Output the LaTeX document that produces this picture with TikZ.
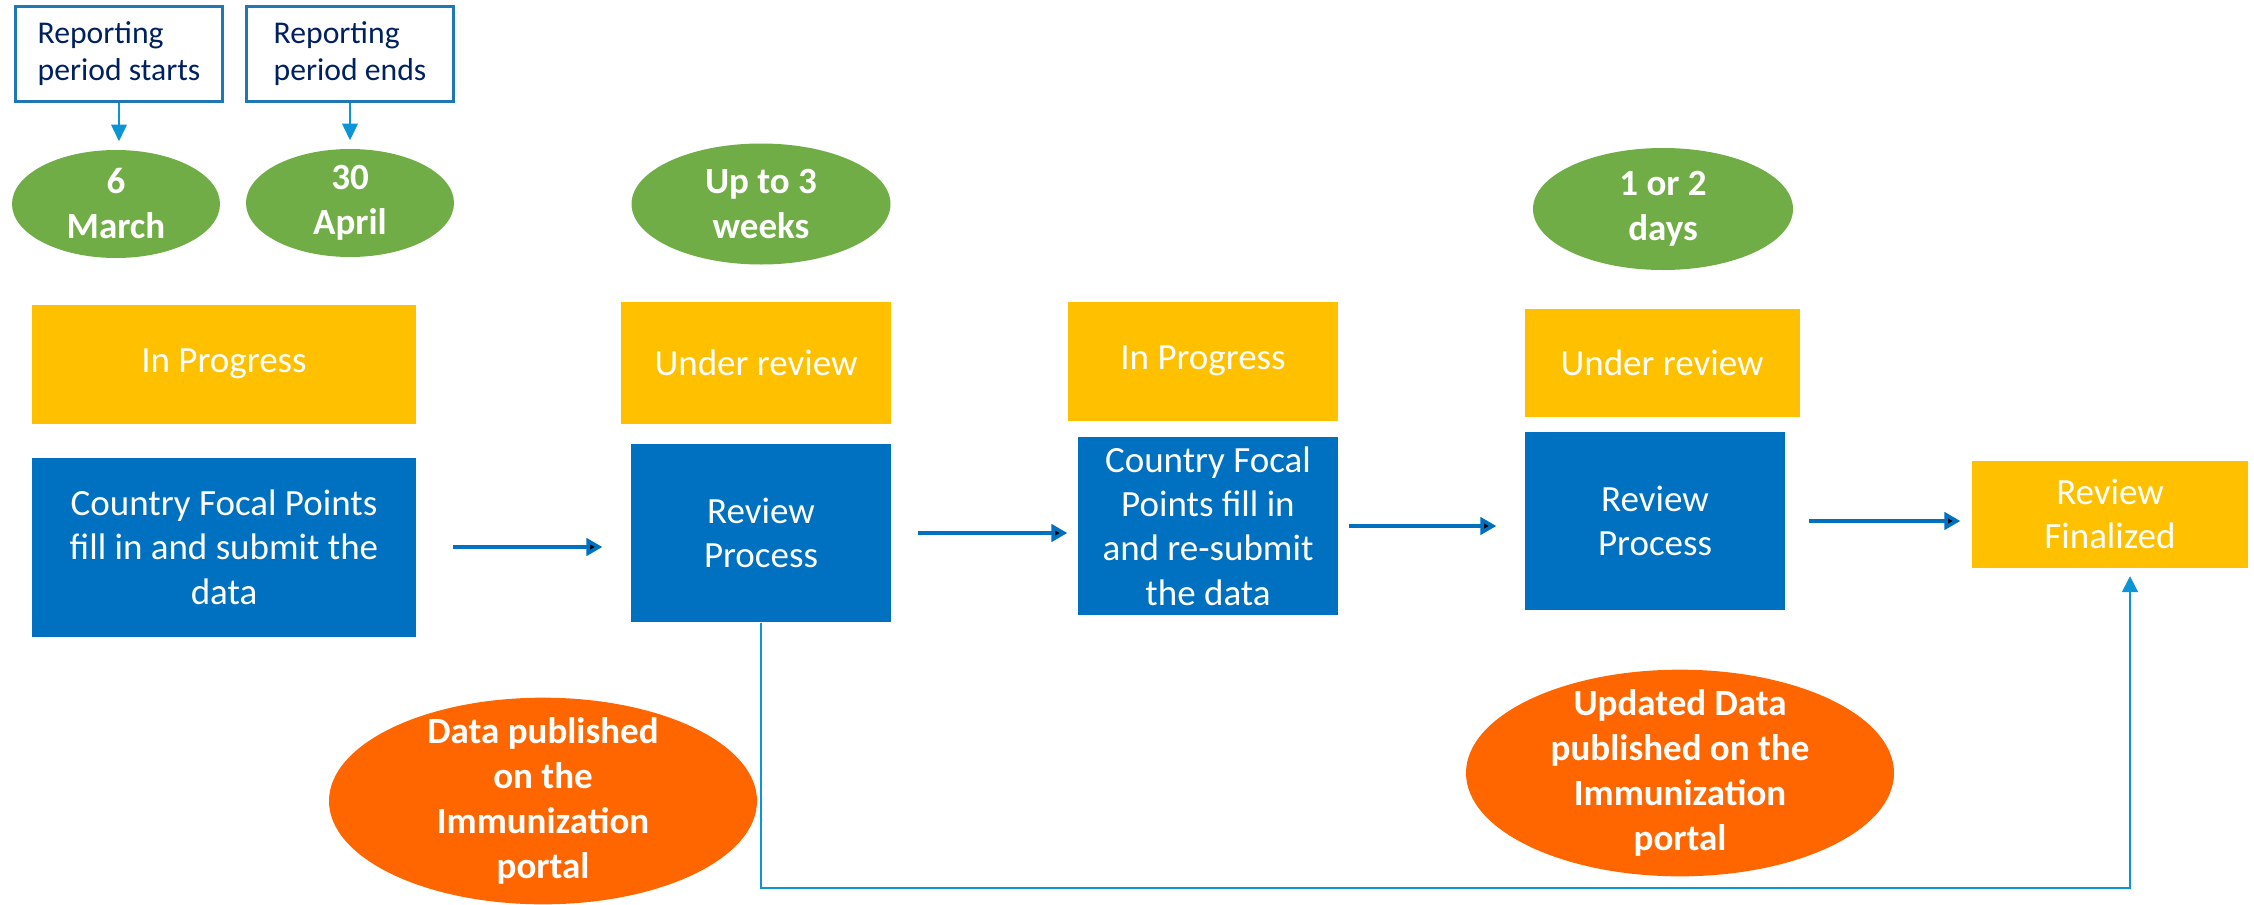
\documentclass[tikz,border=0pt]{standalone}
\usepackage{fontspec}
\setmainfont{Carlito}
\usetikzlibrary{shapes.geometric,arrows.meta}

\definecolor{stagegold}{HTML}{FFC000}
\definecolor{taskblue}{HTML}{0070C0}
\definecolor{timegreen}{HTML}{70AD47}
\definecolor{portalorange}{HTML}{FF6600}
\definecolor{notenavy}{HTML}{002060}
\definecolor{noteedge}{HTML}{1F78B4}
\definecolor{tipblue}{HTML}{0B94D6}

\begin{document}
\begin{tikzpicture}[x=0.3pt,y=-0.3pt,
    body/.style={font=\fontsize{11.1}{13.3}\selectfont},
    note/.style={draw=noteedge,line width=0.8pt,text=notenavy,align=left,inner sep=0pt,
                 font=\fontsize{9.5}{11.1}\selectfont,minimum width=62.1pt,minimum height=28.5pt},
    stage/.style={fill=stagegold,text=white,align=center,inner sep=0pt,body},
    task/.style={fill=taskblue,text=white,align=center,inner sep=0pt,body},
    period/.style={ellipse,fill=timegreen,inner sep=0pt},
    portal/.style={ellipse,fill=portalorange,inner sep=0pt,
                   minimum width=128.4pt,minimum height=62pt},
    big label/.style={text=white,align=center,font=\bfseries\fontsize{11.1}{13.5}\selectfont},
    tip/.style={draw=tipblue,line width=0.7pt,-{Triangle[width=4.6pt,length=5pt]},
                shorten >=2.4pt},
    flow/.style={draw=taskblue,line width=1.1pt,-{Triangle[width=5.2pt,length=4.8pt]}},
    feed/.style={draw=tipblue,line width=0.5pt,-{Triangle[width=4.8pt,length=4.8pt]},
                 shorten >=2.4pt}]

  \useasboundingbox (0,0) rectangle (2254,904);

  % reporting window
  \node[note] (rps) at (119,54) {Reporting\\period starts};
  \node[note] (rpe) at (350,54) {Reporting\\period ends};
  \node[period,minimum width=62.4pt,minimum height=32.4pt,
        label={[big label]center:{6\\March}}] (mar) at (116,204) {};
  \node[period,minimum width=62.4pt,minimum height=32.4pt,
        label={[big label]center:{30\\April}}] (apr) at (350,203) {};
  \draw[tip] (rps.south) -- (rps.south |- mar.north);
  \draw[tip] (rpe.south) -- (rpe.south |- apr.north);

  % durations
  \node[period,minimum width=77.7pt,minimum height=36.3pt,
        label={[big label]center:{Up to 3\\weeks}}] (wk3) at (761,204) {};
  \node[period,minimum width=78pt,minimum height=36.6pt,
        label={[big label]center:{1 or 2\\days}}] (dy2) at (1663,209) {};

  % status row
  \node[stage,minimum width=115.2pt,minimum height=35.7pt] (prog1) at (224,364) {In Progress};
  \node[stage,minimum width=81pt,minimum height=36.6pt] (rvw1) at (756,363) {Under review};
  \node[stage,minimum width=81pt,minimum height=35.7pt] (prog2) at (1203,361) {In Progress};
  \node[stage,minimum width=82.5pt,minimum height=32.4pt] (rvw2) at (1662,363) {Under review};

  % process row
  \node[task,minimum width=115.2pt,minimum height=53.7pt] (cfp1) at (224,547)
       {Country Focal Points\\fill in and submit the\\data};
  \node[task,minimum width=78pt,minimum height=53.4pt] (rev1) at (761,533)
       {Review\\Process};
  \node[task,minimum width=78pt,minimum height=53.4pt] (cfp2) at (1208,526)
       {Country Focal\\Points fill in\\and re-submit\\the data};
  \node[task,minimum width=78pt,minimum height=53.4pt] (rev2) at (1655,521)
       {Review\\Process};
  \node[stage,minimum width=82.8pt,minimum height=32.1pt] (fin) at (2110,514)
       {Review\\Finalized};

  \path[flow]
    (cfp1) edge[shorten <=10.8pt,shorten >=8.4pt] (cfp1.east -| rev1.west)
    (rev1) edge[shorten <=7.8pt,shorten >=3pt] (rev1.east -| cfp2.west)
    (cfp2) edge[shorten <=3pt,shorten >=8.4pt] (cfp2.east -| rev2.west)
    (rev2) edge[shorten <=6.9pt,shorten >=3.3pt] (rev2.east -| fin.west);

  % publication
  \node[portal,label={[big label]center:{Data published\\on the\\Immunization\\portal}}]
       (pub1) at (543,801) {};
  \node[portal,label={[big label]center:{Updated Data\\published on the\\Immunization\\portal}}]
       (pub2) at (1680,773) {};

  \coordinate (low) at (2130,888);
  \draw[feed] (rev1.south) |- (low) -- (low |- fin.south);
\end{tikzpicture}
\end{document}
